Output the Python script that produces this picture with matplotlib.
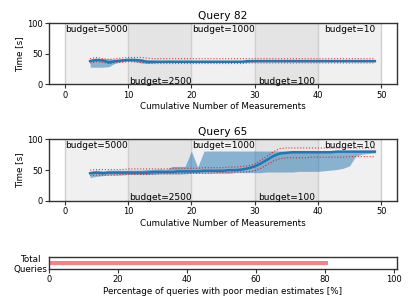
import matplotlib
matplotlib.use("Agg")
import matplotlib.pyplot as plt

x = list(range(4, 50))

# Query 82
q82_median = [38, 40, 39, 36, 38, 39, 40, 40, 39, 37, 37, 37, 37, 37, 37, 37, 37, 37, 37, 37,
              37, 37, 37, 37, 37, 38, 38, 38, 38, 38, 38, 38, 38, 38, 38, 38, 38, 38, 38, 38,
              38, 38, 38, 38, 38, 38]
q82_lo = [28, 28, 28, 29, 35, 37, 38, 37, 35, 34, 35, 36, 36, 36, 36, 36, 36, 36, 36, 36,
          36, 36, 36, 36, 36, 36, 37, 37, 37, 37, 37, 37, 37, 37, 37, 37, 37, 37, 37, 37,
          37, 37, 37, 37, 37, 37]
q82_hi = [41, 42, 42, 42, 41, 41, 42, 42, 42, 40, 39, 39, 39, 39, 39, 39, 39, 39, 39, 39,
          39, 39, 39, 39, 39, 40, 40, 40, 40, 40, 40, 40, 40, 40, 40, 40, 40, 40, 40, 40,
          40, 40, 40, 40, 40, 40]
q82_ci_up = [42, 44, 42, 41, 42, 43, 44, 44, 44, 43, 42, 42, 42, 42, 42, 42, 42, 42, 42, 42,
             42, 42, 42, 42, 42, 42, 42, 42, 42, 42, 42, 42, 42, 42, 42, 42, 42, 42, 42, 42,
             42, 42, 42, 42, 42, 42]
q82_ci_lo = [35, 37, 36, 34, 35, 36, 37, 37, 36, 35, 34, 34, 34, 34, 34, 34, 34, 34, 34, 34,
             34, 34, 34, 34, 34, 35, 35, 35, 35, 35, 35, 35, 35, 35, 35, 35, 35, 35, 35, 35,
             35, 35, 35, 35, 35, 35]

# Query 65
q65_median = [45, 46, 45, 46, 46, 46, 46, 46, 46, 46,
              47, 47, 47, 47, 48, 48, 48, 48, 49, 49,
              49, 49, 50, 50, 51, 53, 56, 61, 67, 73,
              77, 78, 79, 79, 79, 79, 79, 79, 79, 80,
              80, 80, 80, 80, 80, 80]
q65_lo = [38, 40, 41, 42, 42, 42, 43, 43, 43, 43,
          43, 44, 44, 44, 44, 44, 45, 45, 45, 45,
          45, 45, 45, 46, 46, 46, 46, 46, 47, 47,
          47, 47, 47, 48, 48, 48, 48, 49, 50, 51,
          53, 57, 73, 76, 77, 78]
q65_hi = [48, 50, 49, 50, 50, 50, 50, 50, 50, 51,
          51, 52, 51, 56, 56, 56, 81, 55, 81, 81,
          81, 81, 81, 81, 81, 81, 81, 81, 81, 81,
          81, 81, 81, 81, 81, 81, 81, 81, 81, 81,
          81, 81, 81, 82, 82, 82]
q65_ci_up = [50, 51, 51, 51, 51, 51, 52, 52, 52, 52,
             52, 52, 52, 53, 53, 53, 53, 53, 54, 54,
             54, 54, 55, 55, 56, 57, 60, 66, 73, 80,
             85, 86, 86, 86, 86, 86, 86, 86, 86, 86,
             86, 86, 86, 86, 86, 86]
q65_ci_lo = [41, 42, 42, 42, 42, 43, 43, 43, 43, 43,
             44, 44, 44, 44, 44, 45, 45, 45, 45, 45,
             46, 46, 46, 47, 47, 47.5, 49, 53, 59, 65,
             68.5, 70, 70, 70, 70, 71, 71, 71, 71, 71,
             71, 72, 72, 72, 72, 72]

budgets = ["budget=5000", "budget=2500", "budget=1000", "budget=100", "budget=10"]
budget_x = [0.1, 10.2, 20.1, 30.5, 41]
budget_y = [90, 5, 90, 5, 90]

bar_labels = ["Total\nQueries"]
bar_values = [81]

W, H = 411, 308
fig = plt.figure(figsize=(W / 100, H / 100), dpi=100)

def style(ax):
    for s in ax.spines.values():
        s.set_color("#333333")
        s.set_linewidth(1.0)
    ax.tick_params(labelsize=6, length=3, width=0.8, color="#333333", pad=1.5)

def panel(ax, title, med, lo, hi, cu, cl):
    for i in range(5):
        ax.axvspan(i * 10, i * 10 + 10, color="#f0f0f0" if i % 2 == 0 else "#e4e4e4", zorder=0, lw=0)
    for v in range(0, 51, 10):
        ax.axvline(v, color="#cfcfcf", lw=1.0, zorder=0.5)
    ax.fill_between(x, lo, hi, color="#1f77b4", alpha=0.5, lw=0, zorder=2)
    ax.plot(x, cu, color="red", ls=":", lw=0.8, alpha=0.8, zorder=3)
    ax.plot(x, cl, color="red", ls=":", lw=0.8, alpha=0.8, zorder=3)
    ax.plot(x, med, color="#1f77b4", lw=1.8, zorder=4)
    for t, bx, by in zip(budgets, budget_x, budget_y):
        ax.text(bx, by, t, ha="left", va="center", fontsize=6.5, zorder=5)
    ax.set_xlim(-2.5, 52.5)
    ax.set_ylim(0, 100)
    ax.set_yticks([0, 50, 100])
    ax.set_xticks(range(0, 51, 10))
    ax.set_title(title, fontsize=7.7, pad=3)
    ax.set_ylabel("Time [s]", fontsize=6.3, labelpad=2)
    ax.set_xlabel("Cumulative Number of Measurements", fontsize=6.3, labelpad=2)
    style(ax)

ax1 = fig.add_axes([49 / W, 1 - 84.3 / H, 348 / W, 61 / H])
panel(ax1, "Query 82", q82_median, q82_lo, q82_hi, q82_ci_up, q82_ci_lo)
ax2 = fig.add_axes([49 / W, 1 - 201 / H, 348 / W, 61.7 / H])
panel(ax2, "Query 65", q65_median, q65_lo, q65_hi, q65_ci_up, q65_ci_lo)

ax3 = fig.add_axes([49 / W, 1 - 269 / H, 348 / W, 12.3 / H])
ax3.barh(bar_labels, bar_values, height=0.35, color="#ff8080")
ax3.set_xlim(0, 101)
ax3.set_ylim(-0.5, 0.5)
ax3.set_xticks([0, 20, 40, 60, 80, 100])
ax3.set_xlabel("Percentage of queries with poor median estimates [%]", fontsize=6.3, labelpad=2)
style(ax3)
ax3.tick_params(axis="y", length=0, labelsize=6.3)
for lbl in ax3.get_yticklabels():
    lbl.set_multialignment("center")

fig.savefig("out.png", dpi=100)
